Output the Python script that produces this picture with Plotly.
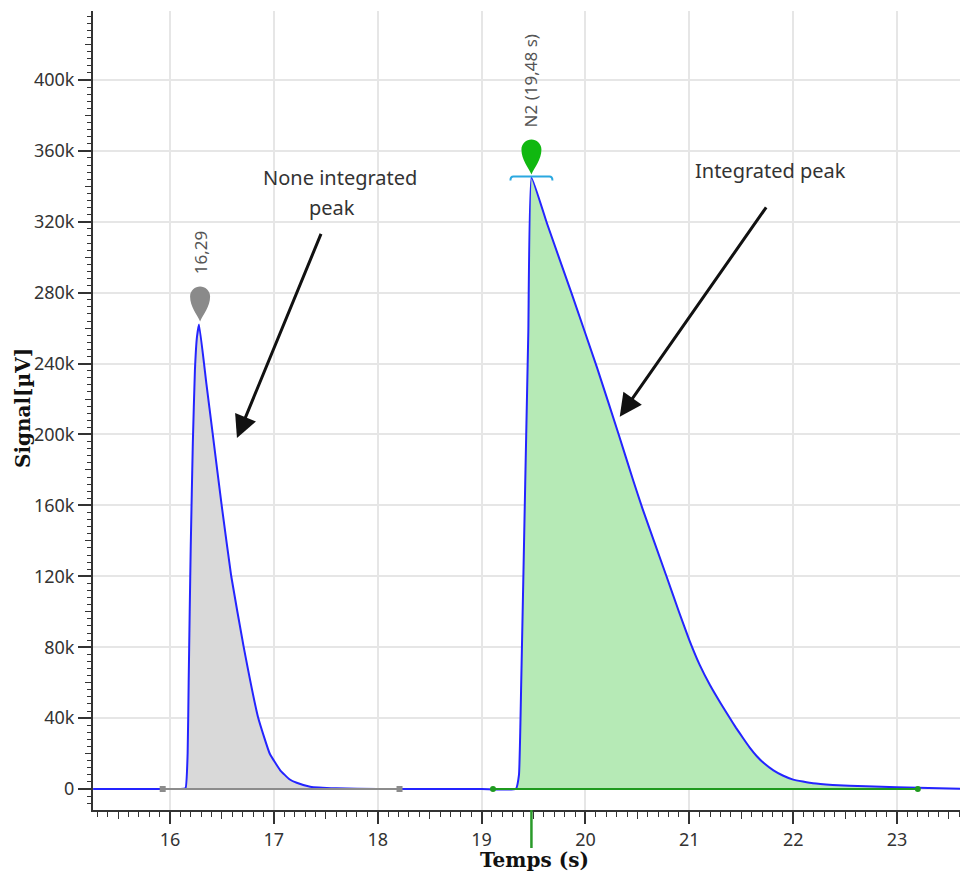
import numpy as np
import plotly.graph_objects as go

# ---------------- data ----------------
time_s = [15.26, 15.90, 16.10, 16.15, 16.17, 16.18, 16.19, 16.20, 16.22, 16.24, 16.26, 16.28,
          16.35, 16.41, 16.50, 16.59, 16.71, 16.85, 16.96, 17.06, 17.15, 17.22, 17.35, 17.60,
          18.00, 18.50, 19.00, 19.33, 19.36, 19.38, 19.42, 19.45, 19.48, 19.63, 19.87, 20.11,
          20.32, 20.46, 20.55, 20.78, 20.90, 21.00, 21.10, 21.20, 21.30, 21.39, 21.45, 21.52,
          21.58, 21.65, 21.72, 21.81, 21.90, 22.00, 22.19, 22.38, 22.70, 23.00, 23.68]
signal_uv = [0, 0, 0, 500, 20000, 60000, 100000, 137000, 195000, 236000, 255000, 262000,
             229000, 201000, 159000, 120000, 80000, 40000, 20000, 10700, 5500, 3500, 1300, 400,
             0, 0, 0, 0, 8000, 55000, 172000, 258000, 345000, 319000, 279000, 238000,
             200000, 174000, 158000, 120000, 100000, 84000, 70000, 58500, 48500, 40000, 34500, 28500,
             23500, 18500, 14500, 10500, 7600, 5300, 3200, 2300, 1500, 1000, 0]

peak_times = [16.29, 19.48]
peak_values = [262000, 345000]
peak_labels = ["16,29", "N2 (19,48 s)"]
peak_colors = ["#8a8a8a", "#10b810"]

window_starts = [15.93, 19.11]
window_ends = [18.21, 23.20]
fill_colors = ["#d9d9d9", "#b6eab6"]
baseline_colors = ["#8c8c8c", "#1f9a1f"]
baseline_symbols = ["square", "circle"]

note_texts = ["None integrated", "peak", "Integrated peak"]
note_x = [17.64, 17.56, 21.78]
note_y = [345000, 328000, 349000]

arrow_head_x = [16.645, 20.33]
arrow_head_y = [198000, 210000]
arrow_tail_x = [17.46, 21.75]
arrow_tail_y = [314000, 329000]

x_range = [15.259, 23.683]
y_range = [-11850, 438900]

SMOOTH = 0.35

# ---------------- figure ----------------
fig = go.Figure()

for s, e, fc in zip(window_starts, window_ends, fill_colors):
    xs = [s] + [t for t in time_s if s < t < e] + [e]
    ys = list(np.interp(xs, time_s, signal_uv))
    fig.add_trace(go.Scatter(x=xs, y=ys, mode="lines", fill="tozeroy", fillcolor=fc,
                             line=dict(width=0, shape="spline", smoothing=SMOOTH),
                             hoverinfo="skip", showlegend=False))

# dummy trace for overlay axes (medium ticks)
fig.add_trace(go.Scatter(x=[], y=[], xaxis="x2", yaxis="y2", showlegend=False))

fig.add_trace(go.Scatter(x=time_s, y=signal_uv, mode="lines",
                         line=dict(color="#2424ff", width=2, shape="spline", smoothing=SMOOTH),
                         showlegend=False))

for s, e, bc, sym in zip(window_starts, window_ends, baseline_colors, baseline_symbols):
    fig.add_trace(go.Scatter(x=[s, e], y=[0, 0], mode="lines+markers",
                             line=dict(color=bc, width=2),
                             marker=dict(color=bc, size=6, symbol=sym),
                             showlegend=False))

shapes = []
tear = "M 0 3 C -3 10 -10 18 -10 28 C -10 34 -5 38 0 38 C 5 38 10 34 10 28 C 10 18 3 10 0 3 Z"
for t, v, c in zip(peak_times, peak_values, peak_colors):
    shapes.append(dict(type="path", xref="x", yref="y", xsizemode="pixel", ysizemode="pixel",
                       xanchor=t, yanchor=v, path=tear, fillcolor=c, line=dict(width=0)))
# integration bracket on the integrated peak
shapes.append(dict(type="path", xref="x", yref="y", xsizemode="pixel", ysizemode="pixel",
                   xanchor=peak_times[1], yanchor=peak_values[1],
                   path="M -21 -3 Q -21 1 -18 1 L 18 1 Q 21 1 21 -3",
                   line=dict(color="#2aa8e0", width=2)))
# retention-time tick below axis
shapes.append(dict(type="line", xref="x", yref="paper", ysizemode="pixel", yanchor=0,
                   x0=peak_times[1], x1=peak_times[1], y0=0, y1=-38,
                   line=dict(color="#2a9a2a", width=2.5)))

annotations = []
for t, v, lab in zip(peak_times, peak_values, peak_labels):
    annotations.append(dict(x=t, y=v, text=lab, textangle=-90, showarrow=False,
                            yanchor="bottom", yshift=48,
                            font=dict(family="Noto Sans", size=17, color="#555555")))
for tx, nx, ny in zip(note_texts, note_x, note_y):
    annotations.append(dict(x=nx, y=ny, text=tx, showarrow=False,
                            font=dict(family="Noto Sans", size=20, color="#333333")))
for hx, hy, tx_, ty in zip(arrow_head_x, arrow_head_y, arrow_tail_x, arrow_tail_y):
    annotations.append(dict(x=hx, y=hy, ax=tx_, ay=ty, axref="x", ayref="y", text="",
                            showarrow=True, arrowhead=2, arrowsize=1.5, arrowwidth=3,
                            arrowcolor="#111111"))
# axis titles
title_font = dict(family="DejaVu Serif", size=20, color="#111111", weight="bold")
annotations.append(dict(text="Temps (s)", xref="paper", yref="paper", x=(534 - 93) / 875, y=0,
                        yshift=-50, showarrow=False, xanchor="center", yanchor="middle",
                        font=title_font))
annotations.append(dict(text="Signal[µV]", xref="paper", yref="paper", x=0, y=(810 - 408) / 799,
                        xshift=-70, showarrow=False, textangle=-90, xanchor="center",
                        yanchor="middle", font=title_font))

tickfont = dict(family="Noto Sans", size=18, color="#333333")
# the page body has an 8px margin, so the figure is sized/offset to land on the reference grid
fig.update_layout(
    width=960, height=868,
    margin=dict(l=85, r=0, t=3, b=66, autoexpand=False),
    plot_bgcolor="white", paper_bgcolor="white",
    shapes=shapes, annotations=annotations,
    xaxis=dict(range=x_range, dtick=1, tick0=0, showgrid=True, gridcolor="#e6e6e6", gridwidth=1.5,
               zeroline=False, showline=True, linecolor="#333333", linewidth=2, automargin=False,
               ticks="outside", ticklen=12, tickwidth=1.5, tickcolor="#333333",
               tickfont=tickfont,
               minor=dict(dtick=0.1, tick0=0, ticks="outside", ticklen=5, tickwidth=1,
                          tickcolor="#333333", showgrid=False)),
    yaxis=dict(range=y_range, dtick=40000, tick0=0, tickformat="~s", showgrid=True,
               gridcolor="#e6e6e6", gridwidth=1.5, zeroline=False, showline=True, automargin=False,
               linecolor="#333333", linewidth=2, ticks="outside", ticklen=13, tickwidth=1.5,
               tickcolor="#333333", tickfont=tickfont,
               minor=dict(dtick=4000, tick0=0, ticks="outside", ticklen=4, tickwidth=1,
                          tickcolor="#333333", showgrid=False)),
    xaxis2=dict(overlaying="x", anchor="y", side="bottom", range=x_range, dtick=0.5, tick0=0,
                showgrid=False, zeroline=False, showline=False, showticklabels=False,
                automargin=False, ticks="outside", ticklen=8, tickwidth=1, tickcolor="#333333"),
    yaxis2=dict(overlaying="y", anchor="x", side="left", range=y_range, dtick=20000, tick0=0,
                showgrid=False, zeroline=False, showline=False, showticklabels=False,
                automargin=False, ticks="outside", ticklen=7, tickwidth=1, tickcolor="#333333"),
)

fig.write_html("out.html")
